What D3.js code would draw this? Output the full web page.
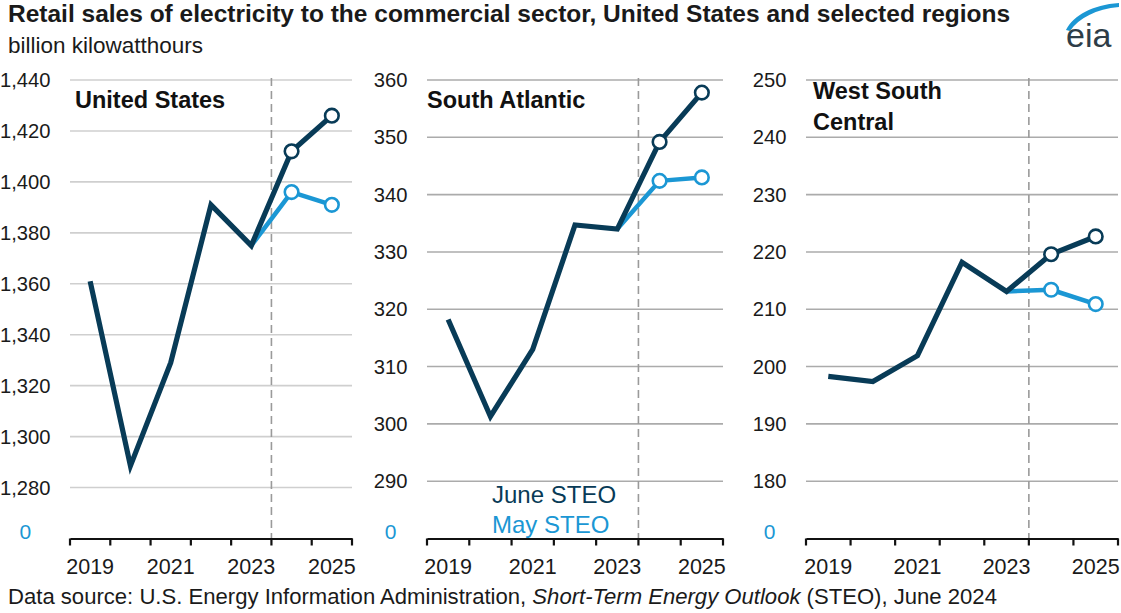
<!DOCTYPE html>
<html>
<head>
<meta charset="utf-8">
<script src="https://cdn.jsdelivr.net/npm/d3@7/dist/d3.min.js"></script>
<style>
  html, body { margin: 0; padding: 0; background: #fff; }
  svg { display: block; font-family: "Liberation Sans", Arial, sans-serif; }
</style>
</head>
<body>
<svg id="chart" width="1121" height="613"></svg>
<script>
// Annual commercial-sector retail electricity sales, billion kWh
const years = [2019, 2020, 2021, 2022, 2023, 2024, 2025];
const yearLabels = ["2019", "", "2021", "", "2023", "", "2025"];

const usJune  = [1361, 1288.5, 1329, 1391, 1375, 1412, 1426];
const usMay   = [null, null, null, null, 1375, 1396, 1391];
const saJune  = [318.2, 301.3, 313.0, 334.7, 334.0, 349.2, 357.8];
const saMay   = [null, null, null, null, 334.0, 342.4, 343.0];
const wscJune = [198.3, 197.4, 201.9, 218.2, 213.1, 219.6, 222.7];
const wscMay  = [null, null, null, null, 213.1, 213.4, 210.9];

const usTicks  = [1280, 1300, 1320, 1340, 1360, 1380, 1400, 1420, 1440];
const saTicks  = [290, 300, 310, 320, 330, 340, 350, 360];
const wscTicks = [180, 190, 200, 210, 220, 230, 240, 250];

// axis floor (drawn as a broken axis labelled "0")
const usFloor = 1260, saFloor = 280, wscFloor = 170;

const panelNames = [["United States"], ["South Atlantic"], ["West South", "Central"]];

const forecastStart = 2024;

// ---- layout & style ----
const COL_JUNE = "#083b57";
const COL_MAY = "#1b97d4";
const plotTop = 80, plotBottom = 538.5;
const panels = [
  { name: panelNames[0], june: usJune,  may: usMay,  ticks: usTicks,  floor: usFloor,  left: 70,  right: 352, grid: "#cfcfcf", fmt: d3.format(","), titleDx: 5 },
  { name: panelNames[1], june: saJune,  may: saMay,  ticks: saTicks,  floor: saFloor,  left: 427, right: 723, grid: "#ababab", fmt: d3.format("d"), titleDx: 0 },
  { name: panelNames[2], june: wscJune, may: wscMay, ticks: wscTicks, floor: wscFloor, left: 806, right: 1118, grid: "#ababab", fmt: d3.format("d"), titleDx: 7 }
];

const svg = d3.select("#chart");

// Title block
svg.append("text").attr("x", 8).attr("y", 22)
  .attr("font-size", 24.5).attr("font-weight", "bold").attr("fill", "#1a1a1a")
  .text("Retail sales of electricity to the commercial sector, United States and selected regions");
svg.append("text").attr("x", 8).attr("y", 53)
  .attr("font-size", 22.5).attr("fill", "#1a1a1a")
  .text("billion kilowatthours");

// eia logo
const logo = svg.append("g");
logo.append("path")
  .attr("d", "M1066,30 C1074,15 1092,5 1119,3 L1119,7 C1096,9 1079,18 1070,31 Z")
  .attr("fill", "#1b97d4");
logo.append("text").attr("x", 1066).attr("y", 47)
  .attr("font-size", 34).attr("fill", "#2e3d47").text("eia");

panels.forEach((p, pi) => {
  const g = svg.append("g");
  const x = d3.scaleBand().domain(years).range([p.left, p.right]).padding(0);
  const y = d3.scaleLinear().domain([p.floor, p.ticks[p.ticks.length - 1]]).range([plotBottom, plotTop]);
  const cx = d => x(d) + x.bandwidth() / 2;

  // gridlines
  g.append("g").selectAll("line").data(p.ticks).join("line")
    .attr("x1", p.left).attr("x2", p.right)
    .attr("y1", d => y(d)).attr("y2", d => y(d))
    .attr("stroke", p.grid).attr("stroke-width", 1.6);

  // y-axis labels
  const yAxis = g.append("g").attr("transform", `translate(${p.left - 19.5},0)`)
    .call(d3.axisLeft(y).tickValues(p.ticks).tickFormat(p.fmt).tickSize(0).tickPadding(0));
  yAxis.select(".domain").remove();
  yAxis.selectAll("text").attr("font-size", 20.2).attr("fill", "#1a1a1a")
    .attr("font-family", '"Liberation Sans", Arial, sans-serif');

  // "0" at the broken floor, centred in the label column
  let maxW = 0;
  yAxis.selectAll("text").each(function () { maxW = Math.max(maxW, this.getComputedTextLength()); });
  g.append("text").attr("x", p.left - 19.5 - maxW / 2).attr("y", y(p.floor) - 6)
    .attr("dy", "0.32em").attr("text-anchor", "middle")
    .attr("font-size", 21).attr("fill", COL_MAY).text("0");

  // forecast divider
  g.append("line")
    .attr("x1", x(forecastStart)).attr("x2", x(forecastStart))
    .attr("y1", plotTop - 2).attr("y2", plotBottom)
    .attr("stroke", "#9a9a9a").attr("stroke-width", 1.6).attr("stroke-dasharray", "8,5");

  // x axis
  const xAxis = g.append("g").attr("transform", `translate(0,${plotBottom})`)
    .call(d3.axisBottom(x).tickFormat((d, i) => yearLabels[i]).tickSize(0).tickPadding(20));
  xAxis.select(".domain").attr("stroke", "#111").attr("stroke-width", 2.2);
  xAxis.selectAll("text").attr("font-size", 21.5).attr("fill", "#1a1a1a")
    .attr("font-family", '"Liberation Sans", Arial, sans-serif');
  const bounds = years.map(d => x(d)).concat([p.right]);
  xAxis.append("g").selectAll("line").data(bounds).join("line")
    .attr("x1", d => d).attr("x2", d => d).attr("y1", 0).attr("y2", 7)
    .attr("stroke", "#111").attr("stroke-width", 2.2);

  // series lines
  const line = d3.line().defined(d => d.v != null).x(d => cx(d.year)).y(d => y(d.v));
  const juneData = years.map((yr, i) => ({ year: yr, v: p.june[i] }));
  const mayData = years.map((yr, i) => ({ year: yr, v: p.may[i] }));

  g.append("path").datum(mayData).attr("d", line)
    .attr("fill", "none").attr("stroke", COL_MAY).attr("stroke-width", 4.5)
    .attr("stroke-linejoin", "round");
  g.append("path").datum(juneData).attr("d", line)
    .attr("fill", "none").attr("stroke", COL_JUNE).attr("stroke-width", 5.2)
    .attr("stroke-linejoin", "miter");

  // forecast markers
  [[mayData, COL_MAY], [juneData, COL_JUNE]].forEach(([data, col]) => {
    g.append("g").selectAll("circle")
      .data(data.filter(d => d.v != null && d.year >= forecastStart)).join("circle")
      .attr("cx", d => cx(d.year)).attr("cy", d => y(d.v)).attr("r", 6.8)
      .attr("fill", "#fff").attr("stroke", col).attr("stroke-width", 2.6);
  });

  // panel title
  const t = g.append("text").attr("font-size", 23.5).attr("font-weight", "bold").attr("fill", "#111");
  p.name.forEach((s, i) => {
    t.append("tspan").attr("x", p.left + p.titleDx)
      .attr("y", (p.name.length > 1 ? 99 : 108) + i * 31).text(s);
  });

  // legend in the middle panel
  if (pi === 1) {
    g.append("text").attr("x", p.left + 65).attr("y", 503)
      .attr("font-size", 24).attr("fill", COL_JUNE).text("June STEO");
    g.append("text").attr("x", p.left + 65).attr("y", 533)
      .attr("font-size", 24).attr("fill", COL_MAY).text("May STEO");
  }
});

// source note
const src = svg.append("text").attr("x", 8).attr("y", 604)
  .attr("font-size", 22.1).attr("fill", "#1a1a1a");
src.append("tspan").text("Data source: U.S. Energy Information Administration, ");
src.append("tspan").attr("font-style", "italic").text("Short-Term Energy Outlook");
src.append("tspan").text(" (STEO), June 2024");
</script>
</body>
</html>
